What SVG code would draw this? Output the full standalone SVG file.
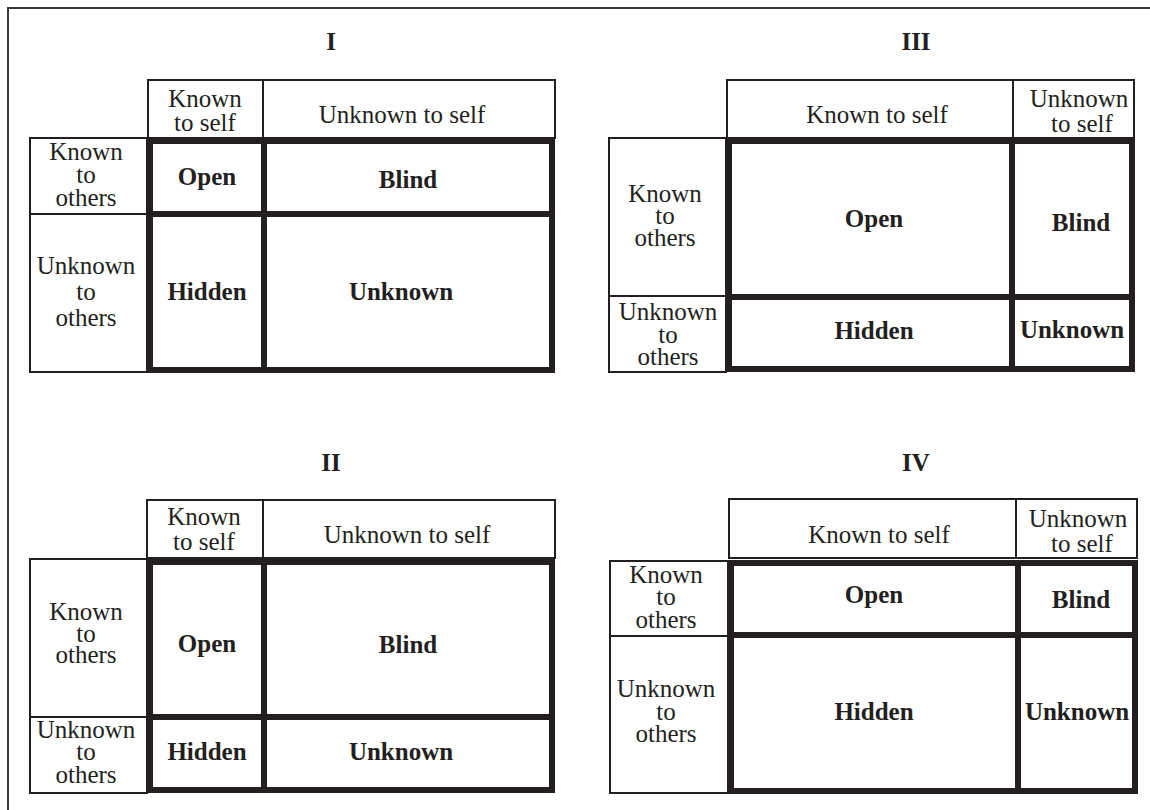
<svg xmlns="http://www.w3.org/2000/svg" width="1150" height="810" viewBox="0 0 1150 810">
<style>
.thin{fill:none;stroke:#231f20;stroke-width:2}
.thick{fill:none;stroke:#231f20;stroke-width:6}
.frame{fill:none;stroke:#3a3a3a;stroke-width:2}
text{font-family:"Liberation Serif","Times New Roman",serif;font-size:25px;fill:#231f20;text-anchor:middle}
.b{font-weight:bold}
</style>
<rect width="1150" height="810" fill="#fff"/>
<rect class="frame" x="8" y="8" width="1160" height="820"/>

<g id="panel-I">
  <text class="b" x="331" y="50">I</text>
  <g id="I-header">
    <rect class="thin" x="148" y="80" width="407" height="58"/>
    <line class="thin" x1="263" y1="80" x2="263" y2="138"/>
    <text x="205" y="107">Known</text><text x="205" y="131">to self</text>
    <text x="402" y="123">Unknown to self</text>
  </g>
  <g id="I-labels">
    <rect class="thin" x="30" y="138" width="117" height="234"/>
    <line class="thin" x1="30" y1="214" x2="147" y2="214"/>
    <text x="86" y="160">Known</text><text x="86" y="183">to</text><text x="86" y="206">others</text>
    <text x="86" y="274">Unknown</text><text x="86" y="300">to</text><text x="86" y="326">others</text>
  </g>
  <g id="I-cells">
    <rect class="thick" x="150" y="141" width="402" height="229"/>
    <line class="thick" x1="264" y1="141" x2="264" y2="370"/>
    <line class="thick" x1="150" y1="214" x2="552" y2="214"/>
    <text class="b" x="207" y="185">Open</text>
    <text class="b" x="408" y="188">Blind</text>
    <text class="b" x="207" y="300">Hidden</text>
    <text class="b" x="401" y="300">Unknown</text>
  </g>
</g>

<g id="panel-III">
  <text class="b" x="916" y="50">III</text>
  <g id="III-header">
    <rect class="thin" x="727" y="80" width="407" height="58"/>
    <line class="thin" x1="1013" y1="80" x2="1013" y2="138"/>
    <text x="877" y="123">Known to self</text>
    <text x="1079" y="107">Unknown</text><text x="1082" y="132">to self</text>
  </g>
  <g id="III-labels">
    <rect class="thin" x="609" y="138" width="117" height="234"/>
    <line class="thin" x1="609" y1="296" x2="726" y2="296"/>
    <text x="665" y="202">Known</text><text x="665" y="224">to</text><text x="665" y="246">others</text>
    <text x="668" y="320">Unknown</text><text x="668" y="343">to</text><text x="668" y="365">others</text>
  </g>
  <g id="III-cells">
    <rect class="thick" x="729" y="141" width="403" height="228"/>
    <line class="thick" x1="1012" y1="141" x2="1012" y2="369"/>
    <line class="thick" x1="729" y1="297" x2="1132" y2="297"/>
    <text class="b" x="874" y="227">Open</text>
    <text class="b" x="1081" y="231">Blind</text>
    <text class="b" x="874" y="339">Hidden</text>
    <text class="b" x="1072" y="338">Unknown</text>
  </g>
</g>

<g id="panel-II">
  <text class="b" x="331" y="471">II</text>
  <g id="II-header">
    <rect class="thin" x="147" y="500" width="408" height="58"/>
    <line class="thin" x1="263" y1="500" x2="263" y2="558"/>
    <text x="204" y="525">Known</text><text x="204" y="550">to self</text>
    <text x="407" y="543">Unknown to self</text>
  </g>
  <g id="II-labels">
    <rect class="thin" x="30" y="559" width="117" height="234"/>
    <line class="thin" x1="30" y1="717" x2="147" y2="717"/>
    <text x="86" y="620">Known</text><text x="86" y="642">to</text><text x="86" y="663">others</text>
    <text x="86" y="738">Unknown</text><text x="86" y="760">to</text><text x="86" y="783">others</text>
  </g>
  <g id="II-cells">
    <rect class="thick" x="150" y="562" width="402" height="228"/>
    <line class="thick" x1="264" y1="562" x2="264" y2="790"/>
    <line class="thick" x1="150" y1="717" x2="552" y2="717"/>
    <text class="b" x="207" y="652">Open</text>
    <text class="b" x="408" y="653">Blind</text>
    <text class="b" x="207" y="760">Hidden</text>
    <text class="b" x="401" y="760">Unknown</text>
  </g>
</g>

<g id="panel-IV">
  <text class="b" x="916" y="471">IV</text>
  <g id="IV-header">
    <rect class="thin" x="729" y="499" width="408" height="59"/>
    <line class="thin" x1="1016" y1="499" x2="1016" y2="558"/>
    <text x="879" y="543">Known to self</text>
    <text x="1078" y="527">Unknown</text><text x="1082" y="552">to self</text>
  </g>
  <g id="IV-labels">
    <rect class="thin" x="610" y="561" width="118" height="232"/>
    <line class="thin" x1="610" y1="636" x2="728" y2="636"/>
    <text x="666" y="583">Known</text><text x="666" y="605">to</text><text x="666" y="628">others</text>
    <text x="666" y="697">Unknown</text><text x="666" y="720">to</text><text x="666" y="742">others</text>
  </g>
  <g id="IV-cells">
    <rect class="thick" x="731" y="563" width="404" height="228"/>
    <line class="thick" x1="1018" y1="563" x2="1018" y2="791"/>
    <line class="thick" x1="731" y1="635" x2="1135" y2="635"/>
    <text class="b" x="874" y="603">Open</text>
    <text class="b" x="1081" y="608">Blind</text>
    <text class="b" x="874" y="720">Hidden</text>
    <text class="b" x="1077" y="720">Unknown</text>
  </g>
</g>
</svg>
